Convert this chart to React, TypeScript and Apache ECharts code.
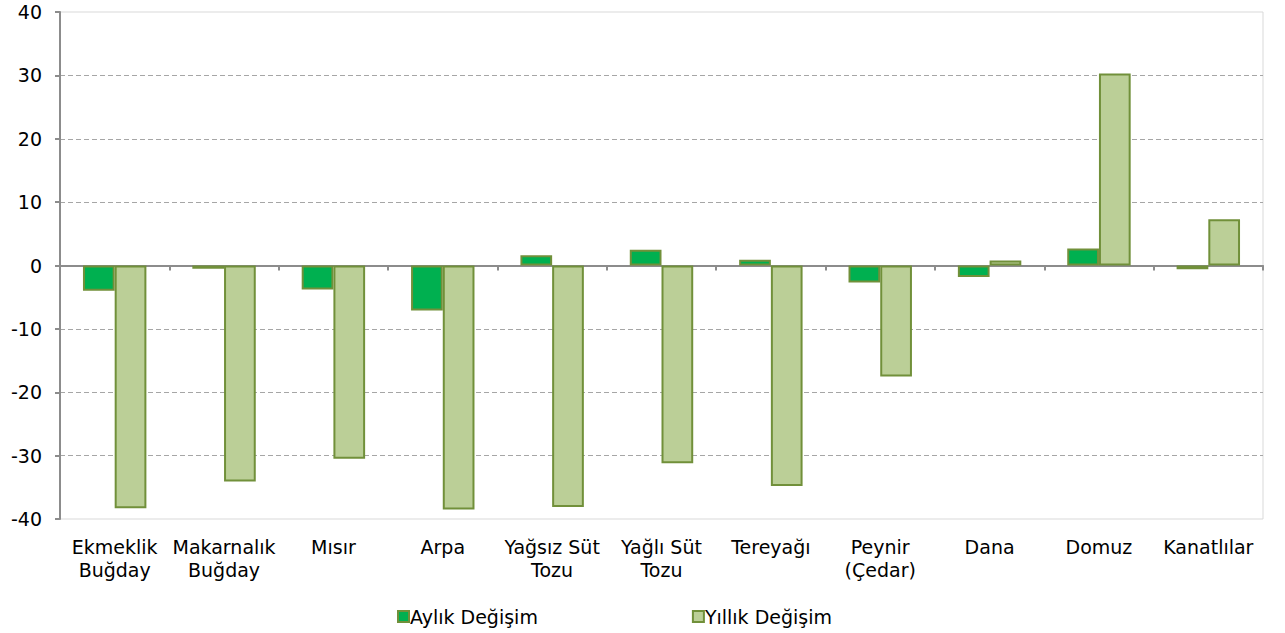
import React, { useEffect, useRef } from "react";
import * as echarts from "echarts";

const categories = [
  "Ekmeklik\nBuğday",
  "Makarnalık\nBuğday",
  "Mısır",
  "Arpa",
  "Yağsız Süt\nTozu",
  "Yağlı Süt\nTozu",
  "Tereyağı",
  "Peynir\n(Çedar)",
  "Dana",
  "Domuz",
  "Kanatlılar",
];
const monthlyName = "Aylık Değişim";
const yearlyName = "Yıllık Değişim";
const monthly = [-4.0, -0.5, -3.8, -7.1, 1.6, 2.5, 0.9, -2.7, -1.8, 2.7, -0.6];
const yearly = [-38.3, -34.1, -30.5, -38.5, -38.1, -31.2, -34.8, -17.5, 0.8, 30.3, 7.3];
const yTicks = { min: -40, max: 40, interval: 10 };

const FONT = "'DejaVu Sans', Verdana, sans-serif";

export default function App() {
  const ref = useRef<HTMLDivElement>(null);
  useEffect(() => {
    if (!ref.current) return;
    document.body.style.margin = "0";
    const chart = echarts.init(ref.current, undefined, { renderer: "svg" });
    const gridColors = ["transparent", "#a6a6a6", "#a6a6a6", "#a6a6a6", "#a6a6a6", "#a6a6a6", "#a6a6a6", "#a6a6a6", "transparent"];
    chart.setOption({
      animation: false,
      textStyle: { fontFamily: FONT },
      grid: {
        left: 60,
        right: 22,
        top: 12,
        bottom: 114,
        show: true,
        borderColor: "#d9d9d9",
        borderWidth: 1,
        backgroundColor: "transparent",
      },
      legend: {
        left: 397,
        top: 607,
        padding: 0,
        itemWidth: 11,
        itemHeight: 11,
        itemGap: 154,
        icon: "rect",
        textStyle: { fontFamily: FONT, fontSize: 19, color: "#000", padding: [0, 0, 0, -4] },
        data: [monthlyName, yearlyName],
      },
      xAxis: [
        {
          type: "category",
          data: categories,
          position: "bottom",
          axisLine: { onZero: true, lineStyle: { color: "#8c8c8c", width: 2 } },
          axisTick: { show: true, length: 5, lineStyle: { color: "#8c8c8c", width: 2 } },
          axisLabel: { show: false },
          splitLine: { show: false },
        },
        {
          type: "category",
          data: categories,
          position: "bottom",
          axisLine: { show: false, onZero: false },
          axisTick: { show: false },
          axisLabel: {
            show: true,
            interval: 0,
            margin: 16,
            fontFamily: FONT,
            fontSize: 19,
            lineHeight: 23,
            color: "#000",
          },
          splitLine: { show: false },
        },
      ],
      yAxis: {
        type: "value",
        min: yTicks.min,
        max: yTicks.max,
        interval: yTicks.interval,
        axisLine: { show: true, lineStyle: { color: "#8c8c8c", width: 2 } },
        axisTick: { show: true, length: 5, lineStyle: { color: "#8c8c8c", width: 2 } },
        axisLabel: { margin: 18, fontFamily: FONT, fontSize: 19, color: "#000" },
        splitLine: { show: true, lineStyle: { type: [5, 3], color: gridColors, width: 1 } },
      },
      series: [
        {
          name: monthlyName,
          type: "bar",
          xAxisIndex: 0,
          data: monthly,
          barGap: "0%",
          barCategoryGap: "42%",
          itemStyle: { color: "#00b050", borderColor: "#71903a", borderWidth: 2 },
        },
        {
          name: yearlyName,
          type: "bar",
          xAxisIndex: 0,
          data: yearly,
          barGap: "0%",
          barCategoryGap: "42%",
          itemStyle: { color: "#bbcf97", borderColor: "#71903a", borderWidth: 2 },
        },
      ],
    });
    return () => chart.dispose();
  }, []);
  return <div ref={ref} style={{ width: 1285, height: 633 }} />;
}
